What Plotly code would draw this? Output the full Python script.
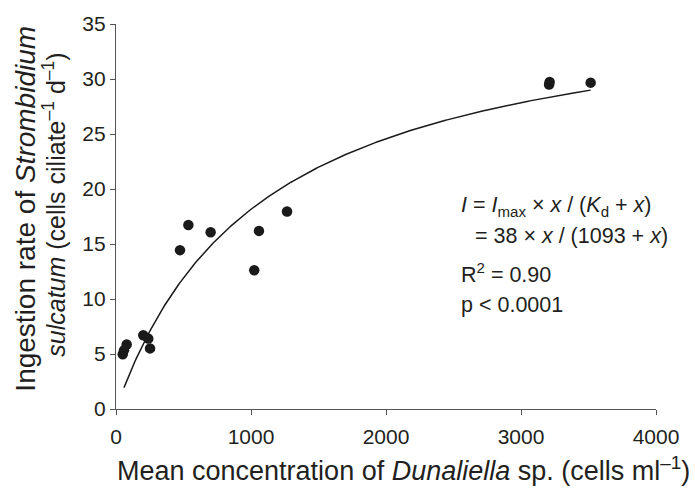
import plotly.graph_objects as go
import numpy as np

# Observed data (Dunaliella concentration, ingestion rate)
conc = [50, 59, 79, 202, 239, 252, 474, 536, 701, 1024, 1059, 1267, 3208, 3212, 3516]
ingestion = [4.97, 5.33, 5.87, 6.70, 6.40, 5.51, 14.44, 16.72, 16.07, 12.62, 16.19, 17.95, 29.50, 29.72, 29.67]

# Fitted Michaelis-Menten parameters shown on chart
I_max = 38
K_d = 1093
fit_x_min = 59
fit_x_max = 3516

x_ticks = [0, 1000, 2000, 3000, 4000]
y_ticks = [0, 5, 10, 15, 20, 25, 30, 35]

fx = np.linspace(fit_x_min, fit_x_max, 300)
fy = I_max * fx / (K_d + fx)

font = "Liberation Sans, Arial, sans-serif"
txtc = "#231f20"

fig = go.Figure()
fig.add_trace(go.Scatter(x=fx, y=fy, mode="lines",
                         line=dict(color="#1a1a1a", width=1.5), hoverinfo="skip"))
fig.add_trace(go.Scatter(x=conc, y=ingestion, mode="markers",
                         marker=dict(color="#1a1a1a", size=10.5, line=dict(width=0))))

fig.update_layout(
    width=695, height=488,
    margin=dict(l=116, r=39, t=17, b=79),
    paper_bgcolor="white", plot_bgcolor="white",
    showlegend=False,
    font=dict(family=font, color=txtc, size=21),
    xaxis=dict(range=[0, 4000], tickvals=x_ticks, ticks="outside", ticklen=5,
               tickcolor="#555555", showline=True, linecolor="#555555", linewidth=1.2,
               showgrid=False, zeroline=False, tickfont=dict(size=21), ticklabelstandoff=4),
    yaxis=dict(range=[0, 35], tickvals=y_ticks, ticks="outside", ticklen=5,
               tickcolor="#555555", showline=True, linecolor="#555555", linewidth=1.2,
               showgrid=False, zeroline=False, tickfont=dict(size=21)),
)

# x-axis title
fig.add_annotation(x=(403 - 116) / 540, y=(409 - 470) / 392, xref="paper", yref="paper",
                   text="Mean concentration of <i>Dunaliella</i> sp. (cells ml<sup>–1</sup>)",
                   showarrow=False, xanchor="center", yanchor="middle",
                   font=dict(size=27, family=font, color=txtc))

# y-axis title (two lines)
ytitle = [
    ("Ingestion rate of <i>Strombidium</i>", 26, 205, 28),
    ("<i>sulcatum</i> (cells ciliate<sup>–1</sup> d<sup>–1</sup>)", 54, 201, 25),
]
for txt, px, py, fs in ytitle:
    fig.add_annotation(x=(px - 116) / 540, y=(409 - py) / 392, xref="paper", yref="paper", text=txt,
                       showarrow=False, textangle=-90, xanchor="center", yanchor="middle",
                       font=dict(size=fs, family=font, color=txtc))

lines = [
    ("<i>I</i> = <i>I</i><sub>max</sub> × <i>x</i> / (<i>K</i><sub>d</sub> + <i>x</i>)", 2540, 18.4),
    ("= 38 × <i>x</i> / (1093 + <i>x</i>)", 2645, 15.75),
    ("R<sup>2</sup> = 0.90", 2540, 12.4),
    ("p < 0.0001", 2540, 9.45),
]
for txt, ax_, ay_ in lines:
    fig.add_annotation(x=ax_, y=ay_, xref="x", yref="y", text=txt, showarrow=False,
                       xanchor="left", yanchor="middle", font=dict(size=21.5, family=font, color=txtc))

fig.write_html("out.html")
